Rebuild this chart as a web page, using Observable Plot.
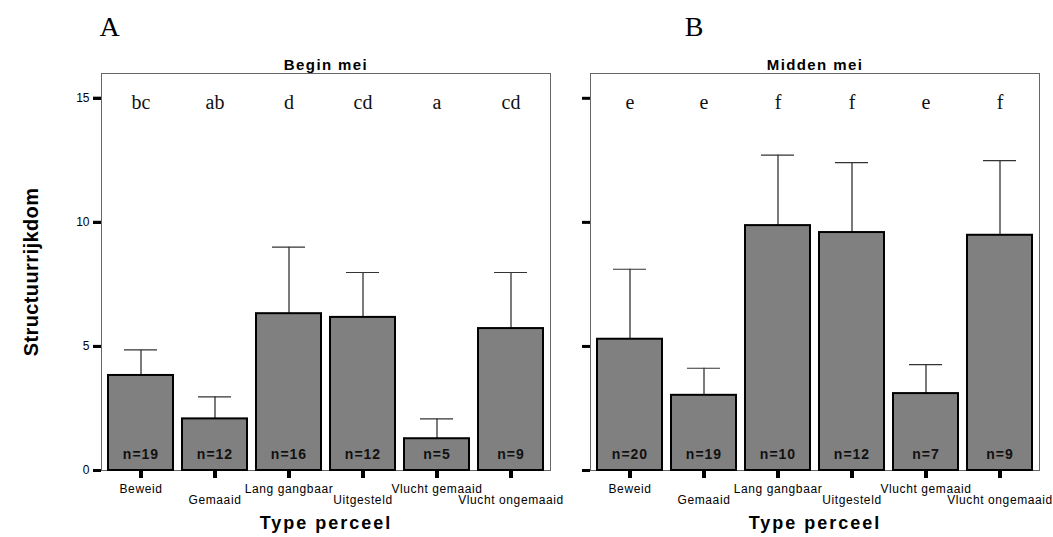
<!DOCTYPE html>
<html>
<head>
<meta charset="utf-8">
<script src="https://cdn.jsdelivr.net/npm/d3@7"></script>
<script src="https://cdn.jsdelivr.net/npm/@observablehq/plot@0.6"></script>
<style>
  html, body { margin: 0; padding: 0; background: #fff; }
  #chart { width: 1053px; height: 537px; }
</style>
</head>
<body>
<div id="chart"></div>
<script>
// ---- data ----
const categories = ["Beweid", "Gemaaid", "Lang gangbaar", "Uitgesteld", "Vlucht gemaaid", "Vlucht ongemaaid"];
const periods = ["Begin mei", "Midden mei"];
const panelLabels = ["A", "B"];
const meanBegin = [3.83, 2.08, 6.32, 6.17, 1.28, 5.72];
const upperBegin = [4.86, 2.97, 9.00, 7.98, 2.08, 7.98];
const nBegin = [19, 12, 16, 12, 5, 9];
const lettersBegin = ["bc", "ab", "d", "cd", "a", "cd"];
const meanMidden = [5.29, 3.03, 9.87, 9.59, 3.10, 9.48];
const upperMidden = [8.11, 4.12, 12.71, 12.41, 4.27, 12.49];
const nMidden = [20, 19, 10, 12, 7, 9];
const lettersMidden = ["e", "e", "f", "f", "e", "f"];
const yTicks = [0, 5, 10, 15];
const yLabel = "Structuurrijkdom";
const xLabel = "Type perceel";

// ---- table ----
const rows = [];
categories.forEach((c, i) => {
  rows.push({period: periods[0], type: c, mean: meanBegin[i], upper: upperBegin[i], n: "n=" + nBegin[i], letter: lettersBegin[i]});
});
categories.forEach((c, i) => {
  rows.push({period: periods[1], type: c, mean: meanMidden[i], upper: upperMidden[i], n: "n=" + nMidden[i], letter: lettersMidden[i]});
});
const firstRow = new Set(categories.filter((d, i) => i % 2 === 0));

const sans = "Liberation Sans, Arial, sans-serif";
const serif = "Liberation Serif, Times New Roman, serif";

const svg = Plot.plot({
  width: 1053,
  height: 537,
  marginLeft: 100,
  marginRight: 13,
  marginTop: 73,
  marginBottom: 67,
  style: {fontFamily: sans, background: "white", color: "black"},
  fx: {domain: periods, paddingInner: 0.0816, paddingOuter: 0, axis: null},
  x: {domain: categories, paddingInner: 0.12, paddingOuter: 0.06},
  y: {domain: [0, 16]},
  marks: [
    Plot.frame({stroke: "#666", strokeWidth: 1}),
    // error bars
    Plot.ruleX(rows, {fx: "period", x: "type", y1: "mean", y2: "upper", stroke: "#222", strokeWidth: 1.2}),
    Plot.tickY(rows, {fx: "period", x: "type", y: "upper", stroke: "#333", strokeWidth: 1.2, insetLeft: 16, insetRight: 16}),
    // bars
    Plot.barY(rows, {fx: "period", x: "type", y: "mean", fill: "#808080", stroke: "black", strokeWidth: 2}),
    // n labels
    Plot.text(rows, {fx: "period", x: "type", text: "n", frameAnchor: "bottom", lineAnchor: "bottom", dy: -12, fontSize: 14, fontWeight: "bold", fill: "#111"}),
    // significance letters
    Plot.text(rows, {fx: "period", x: "type", text: "letter", frameAnchor: "top", lineAnchor: "bottom", dy: 35, fontSize: 20, fontFamily: serif, fill: "#111"}),
    // y axis with labels (left facet)
    Plot.axisY({ticks: yTicks, tickSize: 8, strokeWidth: 3, stroke: "black", tickPadding: 4, fontSize: 12, label: null}),
    // y axis ticks on every facet
    Plot.axisY({ticks: yTicks, tickSize: 8, strokeWidth: 3, stroke: "black", tickFormat: () => "", label: null, facetAnchor: null}),
    // x axis: ticks + first row of labels
    Plot.axisX({tickSize: 8, strokeWidth: 4, stroke: "black", tickPadding: 6, fontSize: 12, label: null,
      tickFormat: d => firstRow.has(d) ? d : ""}),
    // x axis: second row of labels
    Plot.axisX({tickSize: 0, tickPadding: 25, fontSize: 12, label: null,
      tickFormat: d => firstRow.has(d) ? "" : d}),
    // facet titles
    Plot.text(periods, {fx: d => d, text: d => d, frameAnchor: "top", lineAnchor: "bottom", dy: -4, fontSize: 15, fontWeight: "bold"}),
    // x axis title
    Plot.text(periods, {fx: d => d, text: () => xLabel, frameAnchor: "bottom", lineAnchor: "bottom", dy: 58, fontSize: 18, fontWeight: "bold"}),
    // y axis title (left facet)
    Plot.text([periods[0]], {fx: d => d, text: () => yLabel, frameAnchor: "left", textAnchor: "middle", rotate: -90, lineAnchor: "middle", dx: -70, fontSize: 20, fontWeight: "bold"}),
    // panel letters
    Plot.text([periods[0]], {fx: d => d, text: () => panelLabels[0], frameAnchor: "top-left", textAnchor: "start", lineAnchor: "bottom", dy: -38, dx: -2, fontSize: 28, fontFamily: serif}),
    Plot.text([periods[1]], {fx: d => d, x: () => categories[1], text: () => panelLabels[1], frameAnchor: "top", lineAnchor: "bottom", dy: -38, dx: -10, fontSize: 28, fontFamily: serif})
  ]
});

// letter spacing to mimic the original typography
d3.select(svg).selectAll("text").each(function() {
  const t = this.textContent;
  let ls = null;
  if (/^n=/.test(t)) ls = "1px";
  else if (periods.includes(t)) ls = "1.4px";
  else if (t === xLabel) ls = "2px";
  else if (t === yLabel) ls = "0.4px";
  else if (categories.includes(t)) ls = "0.6px";
  if (ls) d3.select(this).style("letter-spacing", ls);
});

document.getElementById("chart").appendChild(svg);
</script>
</body>
</html>
